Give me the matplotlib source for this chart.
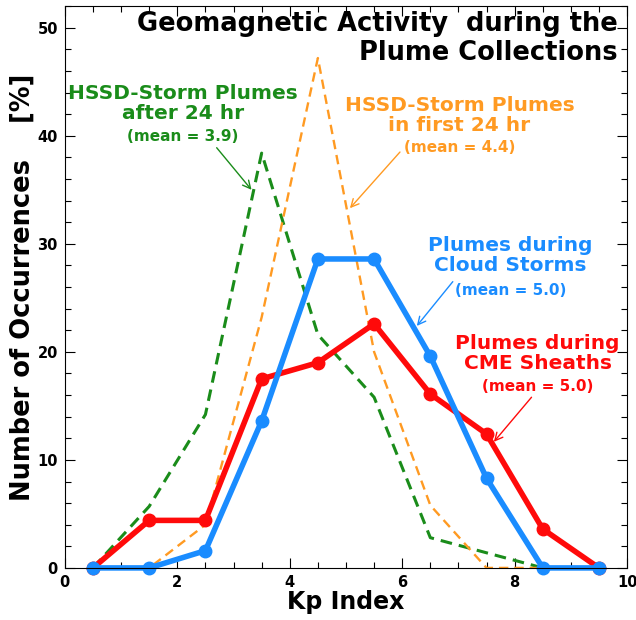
import matplotlib
matplotlib.use("Agg")
import matplotlib.pyplot as plt
from matplotlib.ticker import MultipleLocator

plt.rcParams["font.family"] = ["DejaVu Sans"]
plt.rcParams["font.weight"] = "bold"

# Kp bin centres and percent of occurrences per bin
kp = [0.5, 1.5, 2.5, 3.5, 4.5, 5.5, 6.5, 7.5, 8.5, 9.5]
hssd_after24 = [0, 5.7, 14.2, 38.4, 21.6, 15.8, 2.8, 1.4, 0, 0]
hssd_first24 = [0, 0, 4.0, 23.2, 47.2, 20.0, 5.8, 0, 0, 0]
cme_sheath = [0, 4.4, 4.4, 17.5, 19.0, 22.6, 16.1, 12.4, 3.6, 0]
cloud_storm = [0, 0, 1.6, 13.6, 28.6, 28.6, 19.6, 8.3, 0, 0]

GREEN = "#1a8c1a"
ORANGE = "#ff9a22"
RED = "#ff0a0a"
BLUE = "#1a8cff"

fig = plt.figure(figsize=(6.36, 6.2), dpi=100)
ax = fig.add_axes([0.102, 0.084, 0.884, 0.906])

ax.plot(kp, hssd_after24, color=GREEN, lw=2.2, ls=(0, (3.8, 2.3)))
ax.plot(kp, hssd_first24, color=ORANGE, lw=1.7, ls=(0, (4, 2.5)))
ax.plot(kp, cme_sheath, color=RED, lw=4, marker="o", ms=9, clip_on=False)
ax.plot(kp, cloud_storm, color=BLUE, lw=4, marker="o", ms=9, clip_on=False)

ax.set_xlim(0, 10)
ax.set_ylim(0, 52)
ax.xaxis.set_major_locator(MultipleLocator(2))
ax.xaxis.set_minor_locator(MultipleLocator(0.5))
ax.yaxis.set_major_locator(MultipleLocator(10))
ax.yaxis.set_minor_locator(MultipleLocator(2))
ax.tick_params(which="both", direction="in", top=True, right=True,
               labelsize=10.5, width=0.8, pad=5)
ax.tick_params(which="major", length=7)
ax.tick_params(which="minor", length=4)
for lab in ax.get_xticklabels() + ax.get_yticklabels():
    lab.set_fontweight("bold")
for s in ax.spines.values():
    s.set_linewidth(0.8)

ax.set_xlabel("Kp Index", fontsize=17, fontweight="bold", labelpad=0)
ax.set_ylabel("Number of Occurrences    [%]", fontsize=18.5, fontweight="bold",
              labelpad=1)

ax.text(9.83, 49.0, "Geomagnetic Activity  during the\nPlume Collections",
        ha="right", va="center", multialignment="right", fontsize=18.5,
        fontweight="bold", linespacing=1.15)

# label, mean, colour, label pos, mean pos, arrow tail, arrow head
notes = [
    ("HSSD-Storm Plumes\nafter 24 hr", "(mean = 3.9)", GREEN,
     (2.1, 43.0), (2.1, 39.9), (2.70, 38.9), (3.32, 35.0)),
    ("HSSD-Storm Plumes\nin first 24 hr", "(mean = 4.4)", ORANGE,
     (7.02, 41.9), (7.02, 38.9), (5.96, 38.5), (5.07, 33.3)),
    ("Plumes during\nCloud Storms", "(mean = 5.0)", BLUE,
     (7.93, 28.9), (7.93, 25.7), (6.9, 26.5), (6.26, 22.4)),
    ("Plumes during\nCME Sheaths", "(mean = 5.0)", RED,
     (8.41, 19.86), (8.41, 16.76), (8.3, 15.8), (7.63, 11.67)),
]
for label, mean, col, lpos, mpos, tail, head in notes:
    ax.text(*lpos, label, color=col, ha="center", va="center",
            fontsize=14.5, fontweight="bold", linespacing=1.1)
    ax.text(*mpos, mean, color=col, ha="center", va="center",
            fontsize=11, fontweight="bold")
    ax.annotate("", xy=head, xytext=tail,
                arrowprops=dict(arrowstyle="->", color=col, lw=1,
                                mutation_scale=14, shrinkA=0, shrinkB=0))

fig.savefig("out.png", dpi=100)
